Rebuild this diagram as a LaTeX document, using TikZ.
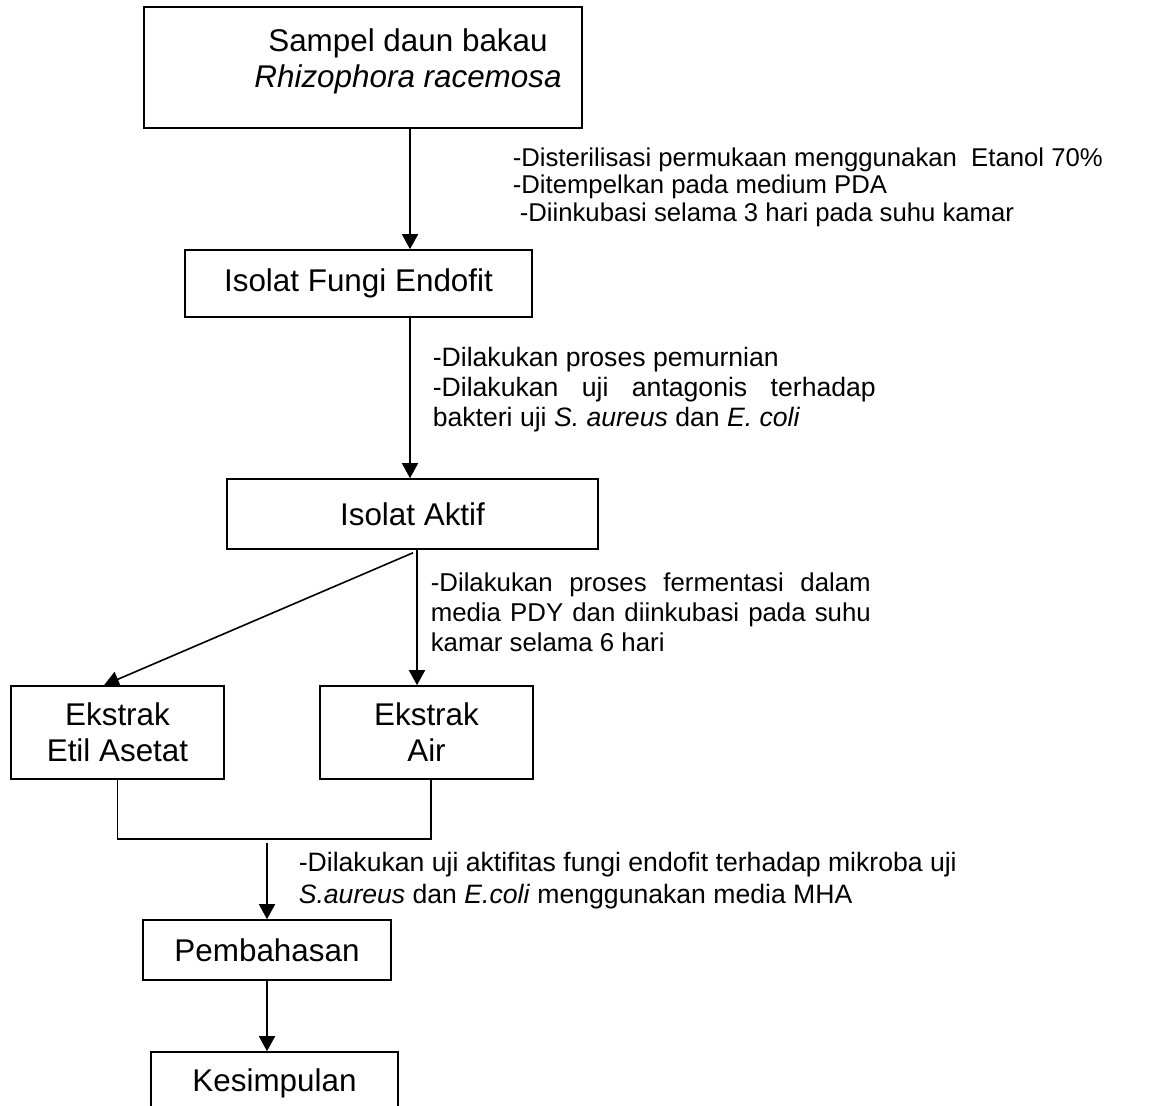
\documentclass[tikz,border=0pt]{standalone}
\usepackage{fontspec}
\setmainfont{Liberation Sans}
\usetikzlibrary{arrows.meta,calc,positioning}
\tolerance=9999
\hyphenpenalty=10000

\begin{document}
\begin{tikzpicture}[
                        x=0.5pt, y=-0.5pt,
                        line width=0.8pt,
                        >={Triangle[length=7.5pt,width=8pt]},
                        block/.style={rectangle, draw, inner sep=0pt, align=center,
                                      font=\fontsize{15.7}{18}\selectfont},
                        note/.style={inner sep=0pt, anchor=north west,
                                     font=\fontsize{13.3}{15}\selectfont}
                    ]
                    \useasboundingbox (0,0) rectangle (1149,1106);
                    \clip (0,0) rectangle (1149,1106);

                    % Blocks
                    \node [block, minimum width=219pt, minimum height=60.5pt] (sampel) at (363,67.5) {};
                    \node [block, draw=none] (sampeltxt) at (408,61) {Sampel daun bakau\\\textit{Rhizophora racemosa}};
                    \node [block, minimum width=173.5pt, minimum height=33.5pt] (isolat) at (358.5,283.5) {Isolat Fungi Endofit};
                    \node [block, minimum width=185.5pt, minimum height=35pt] (aktif) at (412.5,514) {Isolat Aktif};
                    \node [block, minimum width=106.5pt, minimum height=46.5pt] (etil) at (117.5,732.5) {Ekstrak\\Etil Asetat};
                    \node [block, minimum width=106.5pt, minimum height=46.5pt] (air) at (426.5,732.5) {Ekstrak\\Air};
                    \node [block, minimum width=124pt, minimum height=30pt] (bahas) at (267,950) {Pembahasan};
                    \node [block, minimum width=123.5pt, minimum height=31pt] (simpul) at (274.5,1083) {Kesimpulan};

                    % Notes
                    \node [note, align=left, font=\fontsize{12.85}{13.75}\selectfont] (steril) at (512,147)
                        {-Disterilisasi permukaan menggunakan~ Etanol 70\%\\-Ditempelkan pada medium PDA\\\hspace*{3.5pt}-Diinkubasi selama 3 hari pada suhu kamar};
                    \node [note, text width=221.5pt, align=justify] (murni) at (432,346)
                        {-Dilakukan proses pemurnian\\-Dilakukan uji antagonis terhadap bakteri uji \textit{S. aureus} dan \textit{E. coli}};
                    \node [note, text width=220pt, align=justify, font=\fontsize{12.9}{15}\selectfont] (fermen) at (430,572)
                        {-Dilakukan proses fermentasi dalam media PDY dan diinkubasi pada suhu kamar selama 6 hari};
                    \node [note, align=left, font=\fontsize{13.3}{16}\selectfont] (ujimha) at (298,851)
                        {-Dilakukan uji aktifitas fungi endofit terhadap mikroba uji\\\textit{S.aureus} dan \textit{E.coli} menggunakan media MHA};

                    % Connections
                    \draw [->] ($(sampel.south)+(47,0)$) coordinate (a1) -- (a1 |- isolat.north);
                    \draw [->] ($(isolat.south)+(51.5,0)$) coordinate (a2) -- (a2 |- aktif.north);
                    \draw [->] ($(aktif.south)+(0.5,3)$) -- ($(etil.north)+(-13.5,0)$);
                    \draw [->] ($(aktif.south)+(4.5,0)$) coordinate (a4) -- (a4 |- air.north);
                    \draw (etil.south) |- ($(air.south)+(4.5,59)$) -- ($(air.south)+(4.5,0)$);
                    \coordinate (gabung) at (267,843);
                    \draw [->] (gabung) -- (bahas.north);
                    \draw [->] (bahas.south) -- (bahas.south |- simpul.north);
                \end{tikzpicture}
\end{document}
